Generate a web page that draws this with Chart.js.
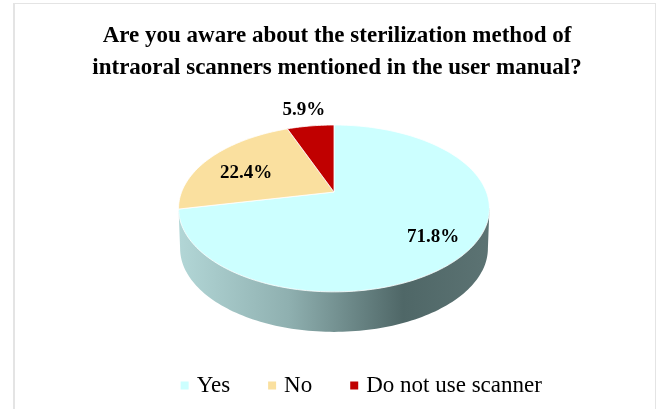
<!DOCTYPE html>
<html>
<head>
<meta charset="utf-8">
<style>
  html, body { margin: 0; padding: 0; background: #fff; }
  canvas { display: block; filter: blur(0.5px); }
</style>
</head>
<body>
<canvas id="chart" width="660" height="409"></canvas>
<script src="https://cdn.jsdelivr.net/npm/chart.js@4/dist/chart.umd.min.js"></script>
<script>
const titleLines = [
  'Are you aware about the sterilization method of',
  'intraoral scanners mentioned in the user manual?'
];
const categories = ['Yes', 'No', 'Do not use scanner'];
const shares = [71.8, 22.4, 5.9];
const sliceColors = ['#CCFFFF', '#FAE09F', '#C00000'];

// perspective of the pie, the original is a 3D pie so the apex is not the ellipse centre
const PIE = { cx: 334, cy: 192, rx: 152.4, ry: 80.2, tilt: 0.197, depth: 40 };
// how far out each label sits, 1 = rim
const LABEL_RADIUS = [0.76, 0.7, 1.36];
const LABEL_DROP = [3, 6, 3];

function project(angle, r = 1) {
  const u = Math.cos(angle) * r;
  const v = -Math.sin(angle) * r;
  const d = 1 + PIE.tilt * v;
  return [PIE.cx + PIE.rx * u / d, PIE.cy - PIE.ry * v / d];
}

const pie3d = {
  id: 'pie3d',
  beforeDraw(chart) {
    const ctx = chart.ctx;
    ctx.save();
    ctx.fillStyle = '#e4e4e4';
    ctx.fillRect(13, 3, 2, 406);
    ctx.fillRect(13, 3, 643, 1);
    ctx.fillRect(655, 3, 1, 406);
    ctx.restore();
  },
  afterLayout(chart) {
    // legend and title are not centred on the pie in the original
    chart.legend.left += 29;
    chart.legend.right += 29;
    chart.titleBlock.left += 3;
    chart.titleBlock.right += 3;
  },
  beforeDatasetDraw(chart, args) {
    const ctx = chart.ctx;
    const arcs = args.meta.data;
    const a0 = Math.asin(PIE.tilt);
    const a1 = Math.PI - a0;

    // side wall
    const wall = ctx.createLinearGradient(180, 0, 490, 0);
    wall.addColorStop(0, '#b2d6d6');
    wall.addColorStop(0.35, '#8fb0b0');
    wall.addColorStop(0.72, '#4f6767');
    wall.addColorStop(1, '#5c7373');
    ctx.save();
    ctx.beginPath();
    ctx.moveTo(...project(a0));
    for (let i = 0; i <= 120; i++) {
      const p = project(a0 + (a1 - a0) * i / 120);
      ctx.lineTo(PIE.cx + (p[0] - PIE.cx) * 0.99, p[1] + PIE.depth);
    }
    ctx.lineTo(...project(a1));
    ctx.closePath();
    ctx.fillStyle = wall;
    ctx.fill();

    // top face, angles come from the chart's own arc elements
    arcs.forEach(arc => {
      const steps = Math.max(4, Math.ceil((arc.endAngle - arc.startAngle) * 40));
      ctx.beginPath();
      ctx.moveTo(PIE.cx, PIE.cy);
      for (let i = 0; i <= steps; i++) {
        ctx.lineTo(...project(arc.startAngle + (arc.endAngle - arc.startAngle) * i / steps));
      }
      ctx.closePath();
      ctx.fillStyle = arc.options.backgroundColor;
      ctx.fill();
      ctx.strokeStyle = '#fff';
      ctx.lineWidth = 0.8;
      ctx.stroke();
    });
    ctx.restore();
    return false;
  },
  afterDatasetsDraw(chart) {
    const ctx = chart.ctx;
    const arcs = chart.getDatasetMeta(0).data;
    ctx.save();
    ctx.font = 'bold 19px "Liberation Serif"';
    ctx.fillStyle = '#000';
    ctx.textAlign = 'center';
    ctx.textBaseline = 'middle';
    arcs.forEach((arc, i) => {
      const p = project((arc.startAngle + arc.endAngle) / 2, LABEL_RADIUS[i]);
      ctx.fillText(shares[i].toFixed(1) + '%', p[0], p[1] + LABEL_DROP[i]);
    });
    ctx.restore();
  }
};

new Chart(document.getElementById('chart'), {
  type: 'pie',
  data: {
    labels: categories,
    datasets: [{ data: shares, backgroundColor: sliceColors, borderWidth: 0 }]
  },
  plugins: [pie3d],
  options: {
    responsive: false,
    animation: false,
    layout: { padding: { left: 8, right: 0, top: 0, bottom: 2 } },
    plugins: {
      title: {
        display: true,
        text: titleLines,
        color: '#000',
        font: { family: '"Liberation Serif"', size: 23, weight: 'bold', lineHeight: 1.35 },
        padding: { top: 21, bottom: 10 }
      },
      legend: {
        position: 'bottom',
        labels: {
          color: '#000',
          font: { family: '"Liberation Serif"', size: 23 },
          usePointStyle: true,
          pointStyle: 'rect',
          boxWidth: 1,
          boxHeight: 8,
          padding: 41.5
        }
      },
      tooltip: { enabled: false }
    }
  }
});
</script>
</body>
</html>
